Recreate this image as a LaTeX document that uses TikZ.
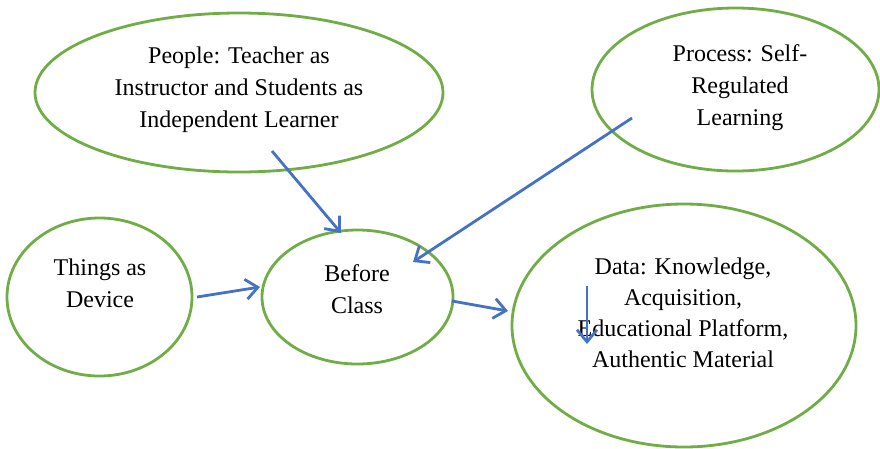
\documentclass[tikz,border=0pt]{standalone}
\usepackage{fontspec}
\setmainfont{Liberation Serif}
\usetikzlibrary{shapes.geometric,arrows.meta,calc}
\definecolor{elgreen}{HTML}{70AD47}
\definecolor{arblue}{HTML}{4472C4}
\begin{document}
\begin{tikzpicture}[x=1pt,y=-1pt,
  ell/.style={ellipse,draw=elgreen,line width=2.8pt,inner sep=0pt,outer sep=0pt},
  txt/.style={align=center,font=\fontsize{24}{32}\selectfont,inner sep=0pt},
  arr/.style={draw=arblue,line width=2.8pt,-{Straight Barb[length=12pt,width=20pt,line width=2.8pt]}}]
\useasboundingbox (0,0) rectangle (880,448);
\node[ell,minimum width=408pt,minimum height=159pt] (people) at (239,92.5) {};
\node[ell,minimum width=287pt,minimum height=163pt] (process) at (735.5,89.5) {};
\node[ell,minimum width=185pt,minimum height=158pt] (things) at (99.5,297) {};
\node[ell,minimum width=191pt,minimum height=134pt] (before) at (357.5,297) {};
\node[ell,minimum width=344pt,minimum height=243pt] (data) at (684,325.5) {};
\node[txt] (peopletxt) at (239,90) {People: Teacher as\\Instructor and Students as\\Independent Learner};
\node[txt] (processtxt) at (740,88) {Process: Self-\\Regulated\\Learning};
\node[txt] (thingstxt) at (100,283) {Things as\\Device};
\node[txt] (beforetxt) at (357,289) {Before\\Class};
\node[txt,font=\fontsize{24}{31}\selectfont] (datatxt) at (683,313) {Data: Knowledge,\\Acquisition,\\Educational Platform,\\Authentic Material};
\draw[arr] ($(people.center)+(33,58.5)$) -- ($(before.center)+(-16.5,-64)$);
\draw[arr] ($(process.center)+(-103.5,28.5)$) -- ($(before.center)+(55.5,-35)$);
\draw[arr] ($(things.center)+(97.5,0)$) -- ($(before.center)+(-97.5,-10)$);
\draw[arr] ($(before.center)+(94.5,4)$) -- ($(data.center)+(-176,-14.5)$);
\draw[arr] ($(data.center)+(-97,-39.5)$) -- ($(data.center)+(-97,18.5)$);
\end{tikzpicture}
\end{document}
